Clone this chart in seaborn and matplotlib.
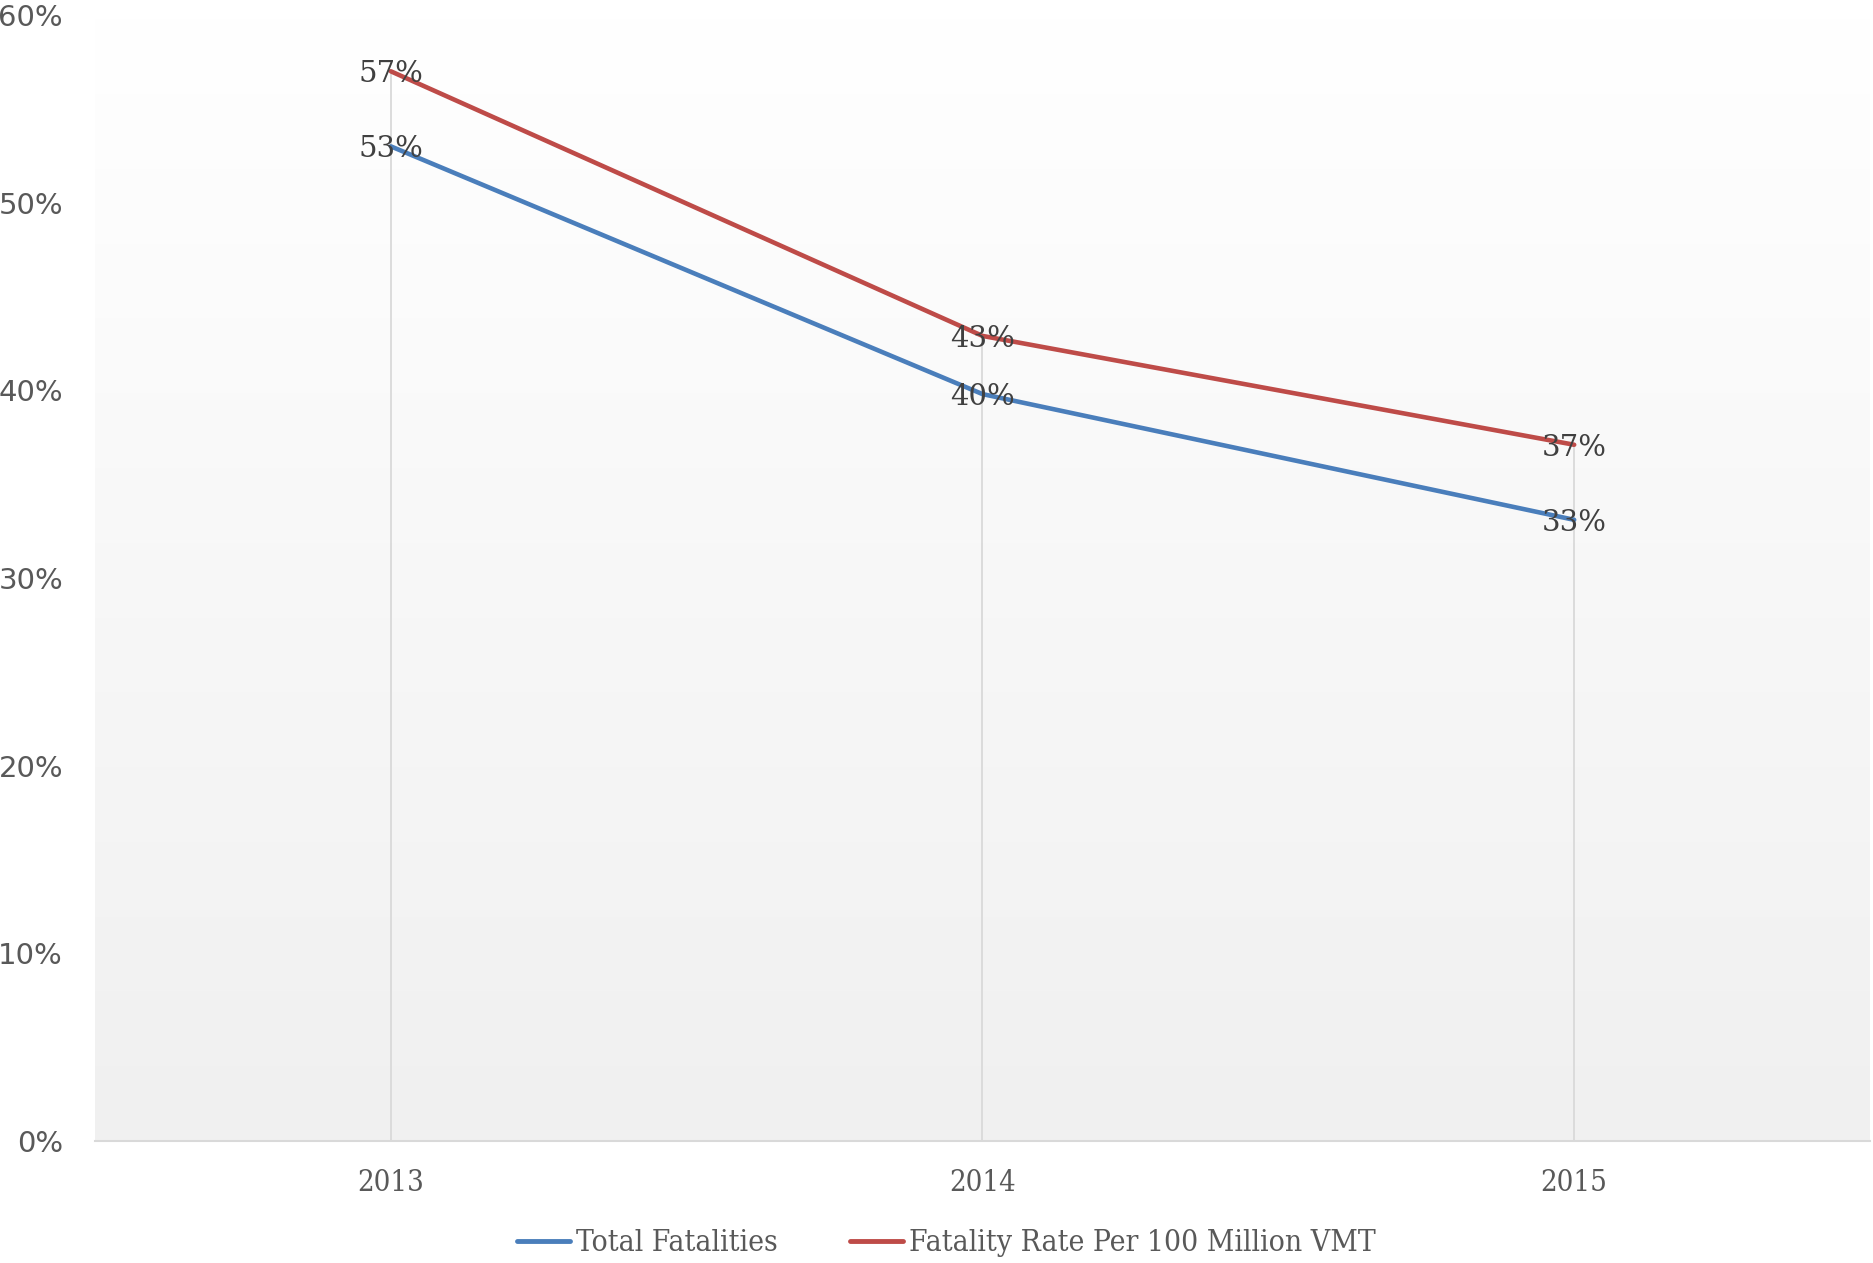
import numpy as np
import pandas as pd
import matplotlib
matplotlib.use("Agg")
import matplotlib.pyplot as plt
import seaborn as sns
from matplotlib.colors import LinearSegmentedColormap
from matplotlib.lines import Line2D
from matplotlib.ticker import FuncFormatter

# ---- data ----
years = ["2013", "2014", "2015"]
total_fatalities = [0.530, 0.398, 0.331]
fatality_rate = [0.570, 0.429, 0.371]
series_names = ["Total Fatalities", "Fatality Rate Per 100 Million VMT"]
y_ticks = [0.0, 0.1, 0.2, 0.3, 0.4, 0.5, 0.6]

BLUE = "#4a7ebb"
RED = "#be4b48"
TEXT = "#595959"
LABEL = "#404040"

df = pd.DataFrame({
    "Year": years * 2,
    "Value": total_fatalities + fatality_rate,
    "Series": [series_names[0]] * len(years) + [series_names[1]] * len(years),
})

sns.set_theme(style="white")
plt.rcParams["font.family"] = ["DejaVu Sans"]

W, H = 1874, 1263
fig = plt.figure(figsize=(W / 100, H / 100), dpi=100)
ax = fig.add_axes([95 / W, 1 - 1141 / H, (1870 - 95) / W, (1141 - 15) / H])

# gradient background of plot area
cmap = LinearSegmentedColormap.from_list("bg", ["#ffffff", "#f0f0f0"])
grad = np.linspace(0, 1, 256).reshape(-1, 1)
ax.imshow(grad, aspect="auto", cmap=cmap, extent=[0, 1, 0, 1], origin="upper",
          transform=ax.transAxes, zorder=0)

# drop lines
x_pos = np.arange(len(years))
tops = np.maximum(total_fatalities, fatality_rate)
ax.vlines(x_pos, 0, tops, color="#d9d9d9", lw=1.3, zorder=1)

sns.lineplot(data=df, x="Year", y="Value", hue="Series", palette=[BLUE, RED],
             linewidth=3.3, sort=False, legend=False, ax=ax, zorder=3)

# data labels
label_font = dict(family="DejaVu Serif", fontsize=21, color=LABEL)
for vals in (total_fatalities, fatality_rate):
    for i, v in enumerate(vals):
        ax.text(i, v, f"{v * 100:.0f}%", ha="center", va="center_baseline", zorder=4, **label_font)

ax.set_xlim(-0.5, len(years) - 0.5)
ax.set_ylim(0, 0.6)
ax.set_yticks(y_ticks)
ax.yaxis.set_major_formatter(FuncFormatter(lambda v, p: f"{v * 100:.0f}%"))
ax.set_xlabel("")
ax.set_ylabel("")
ax.grid(False)
for s in ("top", "right", "left"):
    ax.spines[s].set_visible(False)
ax.spines["bottom"].set_color("#d9d9d9")
ax.spines["bottom"].set_linewidth(1.5)
ax.spines["bottom"].set_zorder(5)

ax.tick_params(axis="y", length=0, pad=23, labelsize=21, labelcolor=TEXT)
ax.tick_params(axis="x", length=0, pad=20, labelsize=21, labelcolor=TEXT)
for lab in ax.get_xticklabels():
    lab.set_family("DejaVu Serif")
    lab.set_fontstretch("condensed")

handles = [Line2D([0], [0], color=BLUE, lw=3.5), Line2D([0], [0], color=RED, lw=3.5)]
leg = fig.legend(handles, series_names, loc="center", bbox_to_anchor=(0.505, 1 - 1243 / H),
                 ncol=2, frameon=False, handlelength=1.8, handletextpad=0.2,
                 columnspacing=2.4,
                 prop=dict(family="DejaVu Serif", size=21.5, stretch="condensed"))
for t in leg.get_texts():
    t.set_color(TEXT)

fig.savefig("out.png", dpi=100)
